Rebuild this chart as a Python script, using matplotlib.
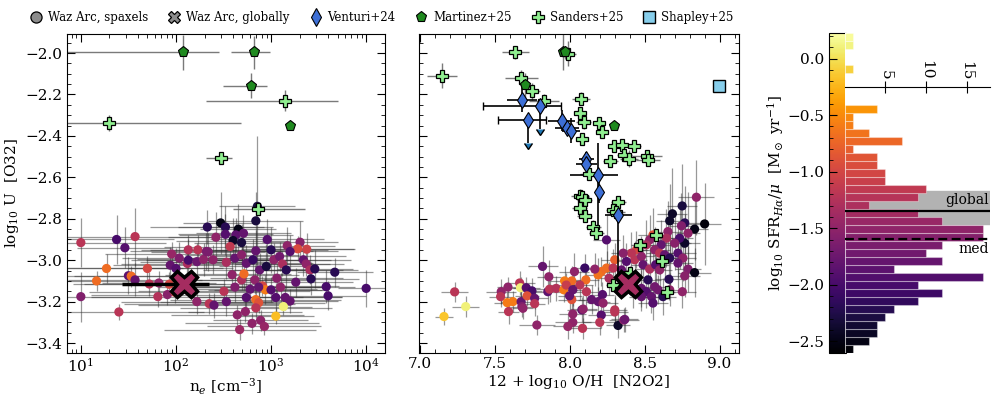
import numpy as np
import matplotlib.pyplot as plt
from matplotlib import colors, cm
from matplotlib.ticker import MultipleLocator
from matplotlib.lines import Line2D

plt.rcParams['font.family'] = 'DejaVu Serif'
plt.rcParams['mathtext.fontset'] = 'dejavuserif'
plt.rcParams['font.size'] = 11

# ---- Waz Arc spaxels, left panel: log n_e, log U, log SFR/mu ----
lne_spx = [1.00, 1.00, 1.165, 1.27, 1.376, 1.40, 1.463, 1.50, 1.53, 1.57, 1.57, 1.70, 1.72, 1.81, 1.82,
           1.91, 1.93, 1.94, 1.955, 2.00, 2.035, 1.99, 2.12, 2.13, 2.13, 2.22, 2.22, 2.23, 2.29, 2.34,
           2.35, 2.40, 2.42, 2.47, 2.52, 2.856, 2.84, 2.33, 2.52, 2.656, 2.63, 2.71, 2.60, 2.69, 2.96,
           3.17, 3.305, 3.28, 3.375, 3.00, 3.20, 2.57, 2.84, 2.32, 2.39, 2.53, 2.62, 2.69, 2.74, 2.81,
           2.88, 2.95, 3.03, 3.09, 3.12, 3.16, 3.06, 3.34, 3.37, 3.41, 3.46, 3.42, 3.26, 3.67, 3.58,
           3.60, 4.00, 2.59, 2.62, 2.69, 2.715, 2.78, 2.83, 2.91, 2.94, 2.87, 3.00, 3.10, 3.05, 3.15,
           3.20, 2.84, 2.87, 2.84, 2.74, 2.505, 2.53, 3.13, 3.05, 2.645, 2.73, 2.89, 2.93, 2.80, 2.67]
U_spx_l = [-2.915, -3.176, -3.10, -3.04, -2.90, -3.25, -2.94, -3.075, -3.077, -2.886, -3.095, -3.04, -3.115, -3.176, -3.11,
           -3.166, -3.116, -3.024, -2.97, -3.04, -2.99, -3.155, -3.016, -3.00, -2.95, -3.20, -3.007, -2.95, -2.996, -2.96,
           -3.21, -3.217, -2.889, -2.82, -2.84, -2.74, -2.81, -2.84, -2.875, -2.85, -2.878, -2.87, -2.905, -2.915, -2.90,
           -2.93, -2.913, -2.945, -2.947, -2.95, -2.958, -2.934, -2.955, -2.958, -2.998, -3.01, -2.99, -2.974, -3.015, -2.998,
           -3.047, -3.03, -2.998, -2.982, -3.018, -3.047, -3.087, -2.998, -3.018, -3.047, -3.042, -3.09, -3.106, -3.058, -3.128,
           -3.172, -3.136, -3.07, -3.13, -3.095, -3.066, -3.14, -3.095, -3.124, -3.143, -3.13, -3.143, -3.13, -3.18, -3.18,
           -3.197, -3.19, -3.205, -3.23, -3.18, -3.15, -3.20, -3.224, -3.27, -3.264, -3.248, -3.29, -3.32, -3.305, -3.335]
sfr_spx_l = [-1.2, -1.6, -0.7, -0.7, -2.0, -1.2, -1.9, -1.85, -0.7, -1.2, -1.8, -1.0, -1.2, -1.25, -1.5,
             -1.55, -1.0, -1.8, -1.45, -1.9, -1.6, -1.0, -1.3, -2.0, -1.25, -1.5, -1.75, -1.2, -1.5, -1.6,
             -1.2, -1.8, -1.5, -2.5, -2.2, -2.3, -2.3, -2.2, -1.9, -2.5, -1.85, -1.8, -2.4, -2.3, -1.9,
             -1.5, -1.55, -0.95, -1.05, -2.2, -1.9, -1.15, -1.8, -1.65, -1.5, -1.3, -1.8, -1.55, -1.8, -2.1,
             -1.8, -2.3, -1.5, -1.7, -1.3, -2.2, -1.55, -1.8, -1.5, -1.3, -2.2, -2.2, -1.8, -2.2, -2.0,
             -2.0, -2.0, -1.5, -1.6, -1.3, -0.7, -1.8, -1.5, -1.0, -0.6, -1.8, -1.9, -1.5, -1.9, -1.8,
             -1.8, -0.7, -0.9, -1.2, -1.9, -1.2, -1.8, 0.1, -0.2, -1.5, -1.5, -1.5, -1.45, -1.5, -1.4]
lne_err_l = [0.9, 0.8, 0.7, 0.8, 0.6, 0.9, 0.5, 0.7, 0.6, 0.8, 0.7, 0.9, 0.8, 0.7, 0.6,
             0.8, 0.9, 0.6, 0.7, 0.5, 0.6, 0.9, 0.7, 0.6, 0.5, 0.8, 0.6, 0.5, 0.7, 0.6,
             0.9, 0.8, 0.5, 0.4, 0.5, 0.4, 0.5, 0.6, 0.5, 0.4, 0.6, 0.5, 0.6, 0.5, 0.6,
             0.5, 0.4, 0.6, 0.5, 0.6, 0.5, 0.7, 0.6, 0.8, 0.7, 0.6, 0.5, 0.6, 0.7, 0.5,
             0.6, 0.5, 0.6, 0.7, 0.5, 0.6, 0.7, 0.5, 0.4, 0.5, 0.4, 0.5, 0.6, 0.4, 0.3,
             0.4, 0.3, 0.7, 0.8, 0.6, 0.5, 0.7, 0.6, 0.8, 0.6, 0.7, 0.6, 0.5, 0.7, 0.6,
             0.5, 0.9, 0.7, 0.8, 0.6, 0.9, 0.7, 0.3, 0.4, 0.7, 0.6, 0.5, 0.6, 0.7, 0.8]
U_err_l = [0.12, 0.12, 0.05, 0.07, 0.12, 0.04, 0.10, 0.09, 0.05, 0.14, 0.08, 0.06, 0.06, 0.05, 0.06,
           0.05, 0.06, 0.09, 0.06, 0.10, 0.08, 0.05, 0.08, 0.10, 0.07, 0.06, 0.09, 0.07, 0.08, 0.09,
           0.05, 0.06, 0.12, 0.15, 0.10, 0.34, 0.14, 0.08, 0.10, 0.12, 0.08, 0.09, 0.11, 0.09, 0.10,
           0.09, 0.10, 0.06, 0.08, 0.11, 0.08, 0.07, 0.10, 0.09, 0.07, 0.08, 0.10, 0.07, 0.09, 0.10,
           0.08, 0.11, 0.08, 0.07, 0.06, 0.09, 0.07, 0.08, 0.06, 0.07, 0.09, 0.08, 0.07, 0.07, 0.08,
           0.07, 0.09, 0.06, 0.07, 0.05, 0.08, 0.06, 0.07, 0.05, 0.07, 0.06, 0.06, 0.07, 0.07, 0.06,
           0.06, 0.05, 0.05, 0.05, 0.07, 0.06, 0.07, 0.04, 0.04, 0.05, 0.05, 0.05, 0.04, 0.05, 0.05]

# ---- Waz Arc spaxels, middle panel: 12+log O/H, log U, log SFR/mu ----
OH_spx = [7.231, 7.305, 7.16, 7.542, 7.538, 7.587, 7.582, 7.62, 7.591, 7.665, 7.671, 7.709, 7.747, 7.675, 7.68,
          7.687, 7.715, 7.765, 7.765, 7.818, 7.86, 7.853, 7.865, 7.909, 7.965, 7.96, 8.013, 7.976, 8.013, 8.031,
          8.02, 8.02, 7.987, 7.78, 7.998, 8.085, 8.08, 8.19, 8.21, 8.20, 8.30, 8.322, 8.36, 8.245, 8.845,
          8.75, 8.685, 8.667, 8.90, 8.833, 8.767, 8.789, 8.745, 8.767, 8.733, 8.70, 8.655, 8.645, 8.61, 8.555,
          8.533, 8.51, 8.567, 8.60, 8.633, 8.667, 8.722, 8.755, 8.722, 8.789, 8.833, 8.767, 8.662, 8.445, 8.411,
          8.433, 8.478, 8.489, 8.533, 8.573, 8.60, 8.378, 8.356, 8.30, 8.245, 8.211, 8.189, 8.107, 8.289, 8.345,
          8.262, 8.10, 8.167, 8.067, 8.02, 8.111, 8.145, 8.218, 8.222, 8.089, 8.30, 8.367, 8.478, 8.511, 8.545,
          8.555, 8.589, 8.622, 8.667, 8.751, 8.478, 8.422, 8.522, 8.567]
U_spx_m = [-3.153, -3.224, -3.272, -3.152, -3.176, -3.13, -3.205, -3.20, -3.248, -3.11, -3.133, -3.133, -3.148, -3.20, -3.224,
           -3.232, -3.172, -3.184, -3.21, -3.03, -3.08, -3.152, -3.14, -3.136, -3.10, -3.143, -3.10, -3.12, -3.19, -3.055,
           -3.26, -3.30, -3.32, -3.313, -3.172, -3.329, -3.24, -3.20, -3.265, -3.30, -3.25, -3.315, -3.289, -2.902, -2.696,
           -2.738, -2.776, -2.81, -2.825, -2.85, -2.82, -2.87, -2.834, -2.918, -2.894, -2.918, -2.862, -2.894, -2.926, -2.878,
           -2.902, -2.926, -2.95, -2.966, -2.974, -2.99, -2.966, -2.99, -3.014, -3.043, -3.06, -3.076, -3.092, -2.95, -2.966,
           -2.998, -2.982, -3.022, -3.043, -3.022, -3.047, -3.006, -2.966, -2.998, -3.038, -3.055, -3.071, -3.095, -3.038, -3.047,
           -3.087, -3.038, -3.043, -3.12, -3.143, -3.152, -3.19, -3.166, -3.207, -3.236, -3.24, -3.286, -3.136, -3.152, -3.176,
           -3.207, -3.143, -3.176, -3.143, -3.152, -3.176, -3.152, -3.095, -3.128]
sfr_spx_m = [-1.2, 0.1, -0.15, -1.5, -1.2, -1.5, -0.6, -0.6, -1.2, -1.2, 0.1, -1.9, -2.0, -1.8, -1.6,
             -1.5, -0.9, -1.8, -1.2, -1.8, -1.5, -1.85, -1.2, -1.25, -0.6, -0.6, -0.7, -1.1, -0.9, -1.5,
             -1.5, -1.5, -1.45, -1.5, -1.8, -1.2, -1.8, -1.8, -1.9, -1.2, -1.2, -2.4, -1.5, -1.9, -1.5,
             -2.3, -2.4, -2.4, -2.55, -2.5, -2.2, -1.5, -1.6, -2.4, -2.0, -1.55, -1.5, -1.3, -1.8, -0.9,
             -1.5, -1.3, -1.5, -1.2, -1.8, -2.2, -1.9, -1.5, -1.8, -1.6, -2.5, -1.55, -2.2, -1.0, -1.2,
             -1.2, -1.5, -1.8, -1.3, -1.9, -1.5, -1.9, -1.55, -0.8, -0.7, -0.7, -0.65, -0.7, -1.2, -1.8,
             -1.3, -2.1, -1.5, -1.2, -1.8, -1.2, -1.8, -1.9, -1.5, -1.5, -1.2, -1.75, -1.8, -1.9, -1.8,
             -1.9, -1.7, -2.2, -1.5, -1.5, -1.8, -1.8, -2.2, -1.7]
OH_err_m = [0.09, 0.09, 0.06, 0.10, 0.08, 0.07, 0.09, 0.08, 0.07, 0.10, 0.08, 0.09, 0.07, 0.10, 0.08,
            0.07, 0.08, 0.09, 0.07, 0.10, 0.08, 0.11, 0.09, 0.08, 0.10, 0.09, 0.08, 0.10, 0.09, 0.10,
            0.09, 0.12, 0.10, 0.12, 0.08, 0.12, 0.10, 0.08, 0.09, 0.11, 0.09, 0.08, 0.10, 0.09, 0.12,
            0.10, 0.10, 0.09, 0.11, 0.09, 0.10, 0.08, 0.09, 0.10, 0.09, 0.11, 0.09, 0.10, 0.08, 0.10,
            0.09, 0.08, 0.10, 0.09, 0.08, 0.10, 0.12, 0.09, 0.10, 0.09, 0.11, 0.10, 0.09, 0.08, 0.07,
            0.08, 0.09, 0.08, 0.10, 0.09, 0.08, 0.07, 0.08, 0.09, 0.08, 0.07, 0.08, 0.09, 0.08, 0.07,
            0.08, 0.09, 0.08, 0.09, 0.10, 0.08, 0.09, 0.08, 0.10, 0.09, 0.08, 0.09, 0.10, 0.08, 0.09,
            0.10, 0.08, 0.09, 0.10, 0.09, 0.08, 0.07, 0.09, 0.10]
U_err_m = [0.05, 0.05, 0.04, 0.06, 0.05, 0.05, 0.05, 0.05, 0.06, 0.06, 0.05, 0.05, 0.06, 0.05, 0.05,
           0.05, 0.05, 0.05, 0.06, 0.10, 0.08, 0.06, 0.06, 0.06, 0.07, 0.06, 0.07, 0.06, 0.07, 0.09,
           0.06, 0.05, 0.06, 0.05, 0.07, 0.05, 0.06, 0.07, 0.06, 0.06, 0.07, 0.06, 0.06, 0.12, 0.18,
           0.20, 0.22, 0.18, 0.20, 0.15, 0.18, 0.20, 0.16, 0.14, 0.15, 0.13, 0.15, 0.14, 0.12, 0.13,
           0.12, 0.12, 0.11, 0.10, 0.12, 0.13, 0.12, 0.11, 0.12, 0.11, 0.12, 0.10, 0.10, 0.09, 0.10,
           0.09, 0.10, 0.09, 0.10, 0.09, 0.10, 0.09, 0.09, 0.08, 0.08, 0.07, 0.08, 0.07, 0.09, 0.08,
           0.08, 0.07, 0.08, 0.07, 0.08, 0.07, 0.07, 0.06, 0.06, 0.07, 0.07, 0.06, 0.09, 0.08, 0.08,
           0.08, 0.07, 0.09, 0.08, 0.08, 0.07, 0.08, 0.08, 0.09]

# ---- Waz Arc, globally ----
glob_lne, glob_lne_lo, glob_lne_hi = 2.084, 0.65, 0.26
glob_OH = 8.387
glob_U = -3.115
glob_sfr = -1.345
med_sfr = -1.596
glob_sfr_lo, glob_sfr_hi = -1.463, -1.174

# ---- literature: left panel ----
mart_lne = [2.07, 2.824, 2.79, 3.20]
mart_U_l = [-1.997, -1.997, -2.158, -2.351]
mart_lne_lo = [1.22, 0.25, 0.29, 0.0]
mart_lne_hi = [0.38, 0.17, 0.17, 0.0]
mart_Uerr_l = [0.085, 0.08, 0.06, 0.0]
sand_lne = [1.298, 3.147, 2.477, 2.86]
sand_U_l = [-2.338, -2.23, -2.507, -2.754]
sand_lne_lo = [0.45, 0.83, 0.16, 0.26]
sand_lne_hi = [1.39, 0.56, 0.11, 0.50]
sand_Uerr_l = [0.04, 0.05, 0.02, 0.03]

# ---- literature: middle panel ----
mart_OH = [7.953, 7.965, 7.698, 8.298]
mart_U_m = [-1.995, -1.997, -2.156, -2.351]
mart_OHerr = [0.02, 0.02, 0.03, 0.02]
mart_Uerr_m = [0.085, 0.03, 0.06, 0.02]
sand_OH = [7.147, 7.635, 7.99, 7.675, 7.75, 7.83, 8.075, 8.07, 8.093, 8.198, 8.213, 8.082, 8.298, 8.347, 8.427,
           8.364, 8.393, 8.269, 8.515, 8.525, 8.125, 8.07, 8.078, 8.10, 8.067, 8.10, 8.155, 8.178, 8.322, 8.29,
           8.31, 8.575, 8.467, 8.615, 8.29, 8.65, 8.405]
sand_U_m = [-2.11, -1.997, -2.003, -2.12, -2.185, -2.23, -2.22, -2.29, -2.335, -2.338, -2.379, -2.414, -2.45, -2.446, -2.45,
            -2.49, -2.51, -2.52, -2.496, -2.515, -2.583, -2.688, -2.693, -2.709, -2.749, -2.785, -2.838, -2.867, -2.72, -2.757,
            -2.768, -2.878, -2.926, -3.002, -3.12, -3.155, -3.06]
sand_OHerr = [0.10, 0.09, 0.05, 0.11, 0.05, 0.10, 0.06, 0.04, 0.05, 0.04, 0.04, 0.04, 0.04, 0.05, 0.05,
              0.05, 0.06, 0.05, 0.10, 0.08, 0.06, 0.06, 0.05, 0.05, 0.05, 0.05, 0.05, 0.05, 0.05, 0.05,
              0.06, 0.05, 0.06, 0.06, 0.05, 0.05, 0.05]
sand_Uerr_m = [0.06, 0.03, 0.06, 0.04, 0.04, 0.03, 0.03, 0.03, 0.03, 0.03, 0.03, 0.03, 0.03, 0.03, 0.03,
               0.03, 0.04, 0.03, 0.03, 0.03, 0.03, 0.03, 0.03, 0.03, 0.03, 0.03, 0.03, 0.03, 0.03, 0.03,
               0.03, 0.03, 0.03, 0.04, 0.03, 0.03, 0.03]
vent_OH = [7.678, 7.798, 7.718, 7.947, 7.98, 8.009, 8.109, 8.109, 8.189, 8.198, 8.322]
vent_U = [-2.226, -2.255, -2.322, -2.326, -2.364, -2.375, -2.51, -2.535, -2.591, -2.672, -2.78]
vent_OH_lo = [0.10, 0.38, 0.20, 0.09, 0.08, 0.06, 0.05, 0.07, 0.19, 0.03, 0.09]
vent_OH_hi = [0.10, 0.14, 0.12, 0.09, 0.08, 0.06, 0.05, 0.07, 0.13, 0.03, 0.09]
vent_U_lo = [0.06, 0.11, 0.11, 0.05, 0.03, 0.06, 0.03, 0.03, 0.28, 0.05, 0.30]
vent_U_hi = [0.06, 0.00, 0.00, 0.05, 0.03, 0.06, 0.03, 0.03, 0.155, 0.05, 0.03]
vent_uplim = [False, True, True, False, False, False, False, False, False, False, False]
shap_OH = [8.998]
shap_U = [-2.158]

# ---- SFR histogram (40 bins, from bottom) ----
sfr_lo, sfr_hi = -2.604, 0.227
hist_counts = [1, 3, 4, 4, 5, 6, 9, 12, 9, 17, 6, 12, 10, 12, 17, 17, 12, 9, 3, 9,
               10, 5, 5, 4, 4, 1, 7, 3, 1, 1, 4, 0, 0, 0, 0, 1, 0, 0, 1, 1]

cmap = plt.get_cmap('inferno')
norm = colors.Normalize(sfr_lo, sfr_hi)

fig = plt.figure(figsize=(9.97, 3.99), dpi=100)
ax1 = fig.add_axes([0.0669, 0.1153, 0.3193, 0.80])
ax2 = fig.add_axes([0.4198, 0.1153, 0.3215, 0.80])
cax = fig.add_axes([0.8315, 0.1153, 0.0171, 0.802])
axh = fig.add_axes([0.8475, 0.1153, 0.1455, 0.802])

eb_spx = dict(fmt='none', ecolor='0.2', elinewidth=0.9, alpha=0.5, zorder=1)
eb_lit = dict(fmt='none', ecolor='0.35', elinewidth=1.0, alpha=0.8, zorder=2)

# ---------- left panel ----------
lne = np.array(lne_spx)
le = np.array(lne_err_l)
ne = 10**lne
ax1.errorbar(ne, U_spx_l, xerr=[ne - 10**(lne - le), 10**(lne + le) - ne], yerr=U_err_l, **eb_spx)
ax1.scatter(ne, U_spx_l, c=sfr_spx_l, cmap=cmap, norm=norm, s=44, edgecolors='none', zorder=3)

m_ne = 10**np.array(mart_lne)
ax1.errorbar(m_ne, mart_U_l, xerr=[m_ne - 10**(np.array(mart_lne) - mart_lne_lo),
                                   10**(np.array(mart_lne) + mart_lne_hi) - m_ne],
             yerr=mart_Uerr_l, **eb_lit)
ax1.plot(m_ne, mart_U_l, 'p', color='#1f8a1f', mec='k', mew=0.8, ms=8, zorder=5)
s_ne = 10**np.array(sand_lne)
ax1.errorbar(s_ne, sand_U_l, xerr=[s_ne - 10**(np.array(sand_lne) - sand_lne_lo),
                                   10**(np.array(sand_lne) + sand_lne_hi) - s_ne],
             yerr=sand_Uerr_l, **eb_lit)
ax1.plot(s_ne, sand_U_l, 'P', color='#90ee90', mec='k', mew=0.9, ms=8.5, zorder=5)

g_ne = 10**glob_lne
ax1.errorbar([g_ne], [glob_U], xerr=[[g_ne - 10**(glob_lne - glob_lne_lo)], [10**(glob_lne + glob_lne_hi) - g_ne]],
             fmt='none', ecolor='k', elinewidth=2.5, zorder=6)
ax1.plot([g_ne], [glob_U], 'X', color=cmap(norm(glob_sfr)), mec='k', mew=2.5, ms=19, zorder=7)

ax1.set_xscale('log')
ax1.set_xlim(7.1, 1.58e4)
ax1.set_ylim(-3.448, -1.907)
ax1.yaxis.set_major_locator(MultipleLocator(0.2))
ax1.yaxis.set_minor_locator(MultipleLocator(0.05))
ax1.set_xlabel(r'n$_e$ [cm$^{-3}$]', labelpad=1)
ax1.set_ylabel(r'log$_{10}$ U  [O32]', labelpad=3)

# ---------- middle panel ----------
ax2.errorbar(OH_spx, U_spx_m, xerr=OH_err_m, yerr=U_err_m, **eb_spx)
ax2.scatter(OH_spx, U_spx_m, c=sfr_spx_m, cmap=cmap, norm=norm, s=44, edgecolors='none', zorder=3)

ax2.errorbar(sand_OH, sand_U_m, xerr=sand_OHerr, yerr=sand_Uerr_m, **eb_lit)
ax2.plot(sand_OH, sand_U_m, 'P', color='#90ee90', mec='k', mew=0.9, ms=8.5, zorder=5)
ax2.errorbar(mart_OH, mart_U_m, xerr=mart_OHerr, yerr=mart_Uerr_m, **eb_lit)
ax2.plot(mart_OH, mart_U_m, 'p', color='#1f8a1f', mec='k', mew=0.8, ms=8, zorder=5)

vup = np.array(vent_uplim)
v_x, v_y = np.array(vent_OH), np.array(vent_U)
v_xe = np.array([vent_OH_lo, vent_OH_hi])
v_ye = np.array([vent_U_lo, vent_U_hi])
ax2.errorbar(v_x[~vup], v_y[~vup], xerr=v_xe[:, ~vup], yerr=v_ye[:, ~vup],
             fmt='none', ecolor='k', elinewidth=1.2, zorder=4)
ax2.errorbar(v_x[vup], v_y[vup], xerr=v_xe[:, vup], yerr=v_ye[0, vup], uplims=True,
             fmt='none', ecolor='k', elinewidth=1.2, capsize=3, zorder=4)
ax2.plot(v_x, v_y, 'd', color='#3d6fd6', mec='k', mew=0.8, ms=8, zorder=6)
ax2.plot(shap_OH, shap_U, 's', color='#87ceeb', mec='k', mew=1.0, ms=8, zorder=6)
ax2.plot([glob_OH], [glob_U], 'X', color=cmap(norm(glob_sfr)), mec='k', mew=2.5, ms=19, zorder=7)

ax2.set_xlim(6.99, 9.13)
ax2.set_ylim(-3.448, -1.907)
ax2.xaxis.set_major_locator(MultipleLocator(0.5))
ax2.xaxis.set_minor_locator(MultipleLocator(0.1))
ax2.yaxis.set_major_locator(MultipleLocator(0.2))
ax2.yaxis.set_minor_locator(MultipleLocator(0.05))
ax2.tick_params(labelleft=False)
ax2.set_xlabel(r'12 + log$_{10}$ O/H  [N2O2]', labelpad=1)

for ax in (ax1, ax2):
    ax.tick_params(which='both', direction='in', top=True, right=True, labelsize=11, pad=3)
    ax.tick_params(which='major', length=6)
    ax.tick_params(which='minor', length=3)

# ---------- colour bar + histogram ----------
cb = fig.colorbar(cm.ScalarMappable(norm=norm, cmap=cmap), cax=cax)
cb.ax.yaxis.set_ticks_position('left')
cb.ax.yaxis.set_label_position('left')
cb.ax.yaxis.set_major_locator(MultipleLocator(0.5))
cb.ax.yaxis.set_minor_locator(MultipleLocator(0.1))
cb.ax.tick_params(which='both', direction='in', labelsize=11)
cb.ax.tick_params(which='major', length=6)
cb.ax.tick_params(which='minor', length=3)
cb.set_label(r'log$_{10}$ SFR$_{H\alpha}$/$\mu$  [M$_\odot$ yr$^{-1}$]', fontsize=11)
cb.ax.yaxis.set_label_coords(-2.55, 0.5)

edges = np.linspace(sfr_lo, sfr_hi, len(hist_counts) + 1)
centers = 0.5 * (edges[1:] + edges[:-1])
axh.barh(centers, hist_counts, height=edges[1] - edges[0], color=cmap(norm(centers)),
         edgecolor=(1, 1, 1, 0.35), linewidth=0.8, zorder=2)
axh.axhspan(glob_sfr_lo, glob_sfr_hi, color='#b2b2b2', zorder=1)
axh.axhline(glob_sfr, color='k', lw=1.6, zorder=3)
axh.axhline(med_sfr, color='k', lw=1.6, ls=(0, (4, 2)), zorder=3)
axh.text(17.8, glob_sfr + 0.035, 'global', ha='right', va='bottom', fontsize=10, zorder=4)
axh.text(17.8, med_sfr - 0.025, 'med', ha='right', va='top', fontsize=10, zorder=4)
axh.set_ylim(sfr_lo, sfr_hi)
axh.set_xlim(0, 17.9)
axh.set_yticks([])
for side in ('left', 'right', 'bottom'):
    axh.spines[side].set_visible(False)
axh.spines['top'].set_position(('data', -0.25))
axh.xaxis.tick_top()
axh.set_xticks([5, 10, 15])
axh.tick_params(axis='x', direction='inout', length=8, labelsize=11, labelrotation=-90, pad=1)

# ---------- legend ----------
gray = '#8c8c8c'
handles = [
    Line2D([], [], ls='none', marker='o', color=gray, mec='k', mew=0.9, ms=8, label='Waz Arc, spaxels'),
    Line2D([], [], ls='none', marker='X', color=gray, mec='k', mew=0.9, ms=9, label='Waz Arc, globally'),
    Line2D([], [], ls='none', marker='d', color='#3d6fd6', mec='k', mew=0.8, ms=9, label='Venturi+24'),
    Line2D([], [], ls='none', marker='p', color='#1f8a1f', mec='k', mew=0.8, ms=8, label='Martinez+25'),
    Line2D([], [], ls='none', marker='P', color='#90ee90', mec='k', mew=0.9, ms=9, label='Sanders+25'),
    Line2D([], [], ls='none', marker='s', color='#87ceeb', mec='k', mew=1.0, ms=8, label='Shapley+25'),
]
fig.legend(handles=handles, loc='center', bbox_to_anchor=(0.383, 0.957), ncol=6, frameon=False,
           fontsize=8.5, handlelength=1.0, handletextpad=0.5, columnspacing=1.7)

fig.savefig('out.png', dpi=100)
